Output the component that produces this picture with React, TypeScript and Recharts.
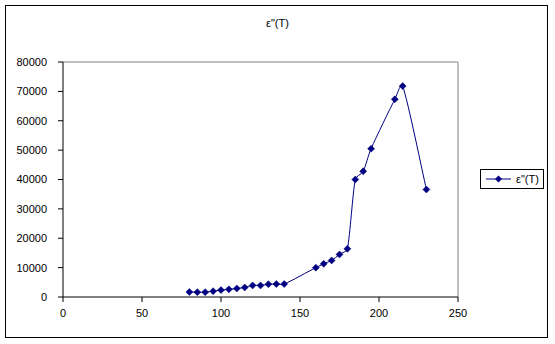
import React from 'react';
import { LineChart, Line, XAxis, YAxis, ReferenceLine, Legend } from 'recharts';

const temperatures = [80, 85, 90, 95, 100, 105, 110, 115, 120, 125, 130, 135, 140, 160, 165, 170, 175, 180, 185, 190, 195, 210, 215, 230];
const epsValues = [1700, 1650, 1650, 2000, 2350, 2600, 2900, 3250, 3950, 3950, 4350, 4400, 4400, 10000, 11300, 12450, 14500, 16400, 40000, 42800, 50500, 67300, 71800, 36600];
const xTicks = [0, 50, 100, 150, 200, 250];
const yTicks = [0, 10000, 20000, 30000, 40000, 50000, 60000, 70000, 80000];
const seriesName = 'ε"(T)';

const data = temperatures.map((t, i) => ({ t, eps: epsValues[i] }));

const NAVY = '#000080';
const FONT = '"Liberation Sans", Arial, sans-serif';

// Excel-style smoothing: Catmull-Rom handles, capped relative to segment length
const capHandle = (hx: number, hy: number, segLen: number) => {
  const len = Math.hypot(hx, hy);
  const max = segLen / 3;
  if (len > max && len > 0) {
    const k = max / len;
    return [hx * k, hy * k];
  }
  return [hx, hy];
};

const excelSmooth: any = (context: any) => {
  let pts: number[][] = [];
  return {
    areaStart() {},
    areaEnd() {},
    lineStart() {
      pts = [];
    },
    point(x: number, y: number) {
      pts.push([+x, +y]);
    },
    lineEnd() {
      const n = pts.length;
      if (n === 0) return;
      context.moveTo(pts[0][0], pts[0][1]);
      for (let i = 0; i < n - 1; i++) {
        const p0 = pts[i > 0 ? i - 1 : 0];
        const p1 = pts[i];
        const p2 = pts[i + 1];
        const p3 = pts[i + 2 < n ? i + 2 : n - 1];
        const seg = Math.hypot(p2[0] - p1[0], p2[1] - p1[1]);
        const [h1x, h1y] = capHandle((p2[0] - p0[0]) / 6, (p2[1] - p0[1]) / 6, seg);
        const [h2x, h2y] = capHandle((p3[0] - p1[0]) / 6, (p3[1] - p1[1]) / 6, seg);
        context.bezierCurveTo(p1[0] + h1x, p1[1] + h1y, p2[0] - h2x, p2[1] - h2y, p2[0], p2[1]);
      }
    },
  };
};

const Diamond = (props: any) => {
  const { cx, cy } = props;
  if (cx == null || cy == null) return null;
  const r = 3.5;
  return (
    <path
      d={`M${cx},${cy - r}L${cx + r},${cy}L${cx},${cy + r}L${cx - r},${cy}Z`}
      fill={NAVY}
      stroke={NAVY}
      strokeWidth={0.5}
    />
  );
};

const LegendBox = () => (
  <div
    style={{
      border: '1px solid #000',
      width: 64,
      height: 20,
      boxSizing: 'border-box',
      display: 'flex',
      alignItems: 'center',
      background: '#fff',
      fontFamily: FONT,
      fontSize: 11,
      color: '#000',
    }}
  >
    <svg width={30} height={18} style={{ marginLeft: 3 }}>
      <line x1={2} y1={9} x2={27} y2={9} stroke={NAVY} strokeWidth={1} />
      <path d="M14.5,5.5L18,9L14.5,12.5L11,9Z" fill={NAVY} />
    </svg>
    <span style={{ marginLeft: 2 }}>{seriesName}</span>
  </div>
);

export default function App() {
  return (
    <div style={{ position: 'absolute', left: 0, top: 0, width: 555, height: 344, background: '#fff' }}>
      <div
        style={{
          position: 'absolute',
          left: 5,
          top: 5,
          width: 543,
          height: 333,
          border: '1px solid #000',
          boxSizing: 'border-box',
        }}
      />
      <div
        style={{
          position: 'absolute',
          left: 0,
          top: 17,
          width: 555,
          textAlign: 'center',
          fontFamily: FONT,
          fontSize: 11,
          color: '#000',
        }}
      >
        {seriesName}
      </div>
      <div style={{ position: 'absolute', left: 0, top: 0 }}>
        <LineChart
          width={555}
          height={344}
          data={data}
          margin={{ top: 62, right: 97, bottom: 17, left: 5 }}
        >
          <ReferenceLine y={80000} stroke="#808080" strokeWidth={1} />
          <ReferenceLine x={250} stroke="#808080" strokeWidth={1} />
          <XAxis
            type="number"
            dataKey="t"
            domain={[0, 250]}
            ticks={xTicks}
            interval={0}
            height={30}
            tickSize={5}
            tickMargin={7}
            stroke="#000"
            tick={{ fill: '#000', fontSize: 11, fontFamily: FONT }}
            tickLine={{ stroke: '#000' }}
            axisLine={{ stroke: '#000' }}
          />
          <YAxis
            type="number"
            domain={[0, 80000]}
            ticks={yTicks}
            interval={0}
            width={58}
            tickSize={5}
            tickMargin={11}
            stroke="#000"
            tick={{ fill: '#000', fontSize: 11, fontFamily: FONT }}
            tickLine={{ stroke: '#000' }}
            axisLine={{ stroke: '#000' }}
          />
          <Legend
            layout="horizontal"
            verticalAlign="middle"
            align="center"
            content={() => <LegendBox />}
            wrapperStyle={{ position: 'absolute', left: 480, top: 169, width: 'auto', height: 'auto' }}
          />
          <Line
            type={excelSmooth}
            dataKey="eps"
            name={seriesName}
            stroke={NAVY}
            strokeWidth={1}
            dot={<Diamond />}
            activeDot={false}
            isAnimationActive={false}
          />
        </LineChart>
      </div>
    </div>
  );
}
